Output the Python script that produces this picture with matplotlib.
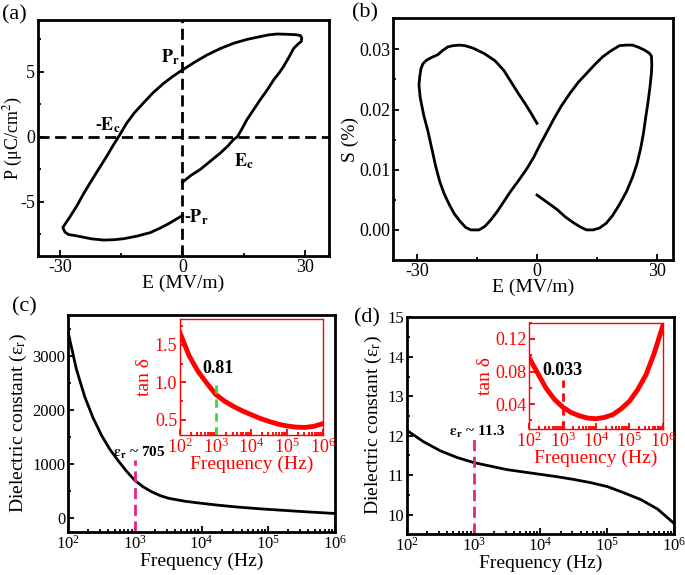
import matplotlib
matplotlib.use('Agg')
import matplotlib.pyplot as plt
import numpy as np
from matplotlib.ticker import MultipleLocator, FormatStrFormatter, LogLocator, NullFormatter

plt.rcParams['font.family'] = ['Liberation Serif', 'DejaVu Serif']
plt.rcParams['mathtext.fontset'] = 'stix'
plt.rcParams['axes.unicode_minus'] = False

# (a) P-E loop
pe_E = [0, 2, 4.3, 6.8, 9.3, 11.2, 12.5, 13.5, 14.6, 15.8, 17.4, 19.1, 20.8, 22.4, 23.7,
        24.8, 26.1, 27.3, 28.4, 29.2, 29.3, 29.0, 27.8, 25.5, 23.2, 21.1, 19.1, 15.8,
        12.5, 9.3, 6.0, 3.0, 0, -2.4, -4.7, -7.2, -9.6, -11.8, -13.7, -15.7, -17.2,
        -18.6, -20.7, -22.7, -24.4, -26.0, -27.7, -29.4, -28.9, -28.0, -26.5, -25.2,
        -22.3, -19.4, -17.0, -14.5, -11.2, -7.95, -5.5, -3.0, -1.5, 0]
pe_P = [-3.51, -3.0, -2.54, -1.9, -1.26, -0.7, -0.23, 0, 0.6, 1.3, 2.05, 2.85, 3.6, 4.38,
        4.9, 5.4, 6.1, 6.8, 7.15, 7.35, 7.6, 7.8, 7.87, 7.9, 7.92, 7.85, 7.72, 7.5,
        7.2, 6.8, 6.3, 5.75, 5.15, 4.65, 4.1, 3.4, 2.6, 1.85, 1.05, 0, -0.75,
        -1.5, -2.55, -3.56, -4.45, -5.36, -6.2, -7.0, -7.35, -7.55, -7.62, -7.7,
        -7.88, -7.97, -7.95, -7.87, -7.67, -7.4, -7.05, -6.64, -6.35, -6.08]

# (b) strain butterfly
se_E = [0, -1.5, -3.0, -4.6, -6.5, -8.3, -10.5, -13.2, -16.0, -18.0, -19.4, -21.0, -22.3,
        -23.6, -24.8, -26.2, -27.6, -28.5, -29.0, -29.3, -29.5,
        -29.2, -28.3, -27.3, -26.3, -25.3, -24.3, -23.2, -22.0, -20.7, -19.2, -17.8, -16.5,
        -14.5, -13.0, -11.5, -10.0, -8.3, -6.6, -4.5, -2.5, -0.8, 0.8, 2.5, 4.1, 6.0, 8.25,
        10.3, 12.4, 14.5, 16.5, 18.6, 20.6, 22.2, 23.9, 25.5, 26.8, 28.0, 28.6, 28.7, 28.6,
        28.2, 27.7, 27.2, 26.6, 25.9, 25.0, 23.9, 22.4, 20.6, 18.9, 17.3, 15.6, 14.0, 12.4,
        10.8, 9.1, 7.0, 5.0, 2.5, 0]
se_S = [0.0177, 0.0194, 0.0210, 0.0226, 0.0246, 0.0265, 0.0281, 0.0293, 0.0302, 0.0306,
        0.0307, 0.0306, 0.0304, 0.0298, 0.0291, 0.0287, 0.0282, 0.0276, 0.0268, 0.0255,
        0.0241,
        0.0220, 0.0190, 0.0165, 0.0135, 0.0105, 0.0080, 0.0060, 0.0043, 0.0027, 0.0014,
        0.0004, 0.0, 0.0, 0.0006, 0.0017, 0.0030, 0.0047, 0.0064, 0.0083, 0.0102, 0.0121,
        0.0142, 0.0163, 0.0183, 0.0205, 0.0227, 0.0245, 0.0260, 0.0275, 0.0288, 0.0298,
        0.0306, 0.0307, 0.0307, 0.0303, 0.0299, 0.0294, 0.0289, 0.0275, 0.0260, 0.0235,
        0.0210, 0.0188, 0.0160, 0.0135, 0.0110, 0.0088, 0.0064, 0.0042, 0.0024, 0.0011,
        0.0003, 0.0, 0.0, 0.0005, 0.0012, 0.0022, 0.0034, 0.0046, 0.0058]

# (c) dielectric constant and loss
logf_c = [2.0, 2.125, 2.25, 2.375, 2.5, 2.625, 2.75, 2.875, 3.0, 3.125, 3.25, 3.375, 3.5,
          3.75, 4.0, 4.25, 4.5, 4.75, 5.0, 5.25, 5.5, 5.75, 6.0]
eps_c = [3450, 2760, 2250, 1860, 1540, 1280, 1070, 875, 705, 585, 495, 425, 375,
         318, 280, 245, 215, 190, 168, 148, 128, 110, 92]
logf_q = [2.0, 2.25, 2.5, 2.75, 3.0, 3.25, 3.5, 3.75, 4.0, 4.25, 4.5, 4.75, 5.0, 5.25, 5.5, 5.75, 6.0]
tan_c = [1.66, 1.36, 1.15, 0.99, 0.84, 0.75, 0.68, 0.62, 0.57, 0.52, 0.48, 0.445, 0.42,
         0.405, 0.40, 0.415, 0.45]

# (d)
eps_d = [12.14, 11.85, 11.62, 11.45, 11.32, 11.23, 11.14, 11.08, 11.02, 10.96, 10.89,
         10.81, 10.71, 10.55, 10.38, 10.14, 9.77]
tan_d = [0.0966, 0.078, 0.0597, 0.046, 0.0363, 0.0297, 0.0256, 0.0228, 0.022, 0.0236,
         0.0269, 0.034, 0.0433, 0.0576, 0.076, 0.1028, 0.1356]

magenta = '#e8208c'


def style(ax, lw=2.0, color='k', size=12):
    for s in ax.spines.values():
        s.set_linewidth(lw)
        s.set_color(color)
    ax.tick_params(which='both', direction='in', top=False, right=False,
                   colors=color, labelsize=size, width=1.3, pad=2)
    ax.tick_params(which='major', length=4)
    ax.tick_params(which='minor', length=2.5)


fig = plt.figure(figsize=(6.85, 5.75), dpi=100)

# ---- (a)
ax = fig.add_axes([0.0555, 0.5548, 0.4248, 0.4104])
ax.plot(pe_E, pe_P, color='k', lw=2)
ax.axhline(0, color='k', lw=2, dashes=(4, 2))
ax.axvline(0, color='k', lw=2, dashes=(4, 2))
ax.set_xlim(-35.5, 36)
ax.set_ylim(-9.2, 9)
ax.xaxis.set_major_locator(MultipleLocator(30))
ax.xaxis.set_minor_locator(MultipleLocator(15))
ax.yaxis.set_major_locator(MultipleLocator(5))
ax.yaxis.set_minor_locator(MultipleLocator(2.5))
style(ax, size=13)
ax.set_xlabel('E (MV/m)', fontsize=14, labelpad=-1)
ax.set_ylabel(r'P (μC/cm$^2$)', fontsize=13, labelpad=-3)
ax.text(-0.6, 6.1, r'$\mathbf{P_r}$', ha='right', va='center', fontsize=13)
ax.text(-18.3, 0.9, r'-$\mathbf{E_c}$', ha='center', va='center', fontsize=13, fontweight='bold')
ax.text(15.2, -1.9, r'$\mathbf{E_c}$', ha='center', va='center', fontsize=13)
ax.text(0.4, -6.2, r'-$\mathbf{P_r}$', ha='left', va='center', fontsize=13, fontweight='bold')

# ---- (b)
ax = fig.add_axes([0.5737, 0.5478, 0.4088, 0.4209])
ax.plot(se_E, se_S, color='k', lw=2)
ax.set_xlim(-36, 34)
ax.set_ylim(-0.005, 0.0352)
ax.xaxis.set_major_locator(MultipleLocator(30))
ax.xaxis.set_minor_locator(MultipleLocator(15))
ax.yaxis.set_major_locator(MultipleLocator(0.01))
ax.yaxis.set_minor_locator(MultipleLocator(0.005))
ax.yaxis.set_major_formatter(FormatStrFormatter('%.2f'))
style(ax, size=13)
ax.set_xlabel('E (MV/m)', fontsize=14, labelpad=-1)
ax.set_ylabel('S (%)', fontsize=14, labelpad=0)


def log_axis(ax):
    ax.set_xscale('log')
    ax.set_xlim(1e2, 1e6)
    ax.xaxis.set_major_locator(LogLocator(base=10, numticks=10))
    ax.xaxis.set_minor_locator(LogLocator(base=10, subs=np.arange(2, 10), numticks=20))
    ax.xaxis.set_minor_formatter(NullFormatter())


# ---- (c)
ax = fig.add_axes([0.0993, 0.0748, 0.3898, 0.3774])
ax.plot(10 ** np.array(logf_c), eps_c, color='k', lw=2)
log_axis(ax)
ax.set_ylim(-250, 3760)
ax.yaxis.set_major_locator(MultipleLocator(1000))
ax.yaxis.set_minor_locator(MultipleLocator(500))
style(ax)
ax.plot([1e3, 1e3], [-250, 1080], color=magenta, lw=2, dashes=(4, 2))
ax.text(10 ** 3.06, 1210, r'$\mathbf{\varepsilon_r}$ ~ 705', ha='center', va='center',
        fontsize=11, fontweight='bold')
ax.set_xlabel('Frequency (Hz)', fontsize=14, labelpad=0)
ax.set_ylabel(r'Dielectric constant (ε$_\mathrm{r}$)', fontsize=14, labelpad=2)

ins = fig.add_axes([0.2628, 0.2435, 0.2083, 0.2012])
ins.plot(10 ** np.array(logf_q), tan_c, color='red', lw=3.5)
log_axis(ins)
ins.set_ylim(0.3, 1.84)
ins.yaxis.set_major_locator(MultipleLocator(0.5))
ins.yaxis.set_minor_locator(MultipleLocator(0.25))
ins.yaxis.set_major_formatter(FormatStrFormatter('%.1f'))
style(ins, lw=1.0, color='red', size=13)
ins.plot([1e3, 1e3], [0.3, 1.03], color='#33dd33', lw=2, dashes=(3, 2))
ins.text(10 ** 3.06, 1.19, '0.81', ha='center', va='center', fontsize=13, fontweight='bold')
ins.set_xlabel('Frequency (Hz)', fontsize=14, color='red', labelpad=-1)
ins.set_ylabel('tan δ', fontsize=14, color='red', labelpad=1)

# ---- (d)
ax = fig.add_axes([0.5937, 0.0708, 0.3907, 0.3784])
ax.plot(10 ** np.array(logf_q), eps_d, color='k', lw=2)
log_axis(ax)
ax.set_ylim(9.5, 15.02)
ax.yaxis.set_major_locator(MultipleLocator(1))
ax.yaxis.set_minor_locator(MultipleLocator(0.5))
style(ax)
ax.plot([1e3, 1e3], [9.5, 11.92], color=magenta, lw=2, dashes=(4, 2))
ax.text(10 ** 3.05, 12.1, r'$\mathbf{\varepsilon_r}$ ~ 11.3', ha='center', va='center',
        fontsize=11, fontweight='bold')
ax.set_xlabel('Frequency (Hz)', fontsize=14, labelpad=0)
ax.set_ylabel(r'Dielectric constant (ε$_\mathrm{r}$)', fontsize=14, labelpad=2)

ins = fig.add_axes([0.7727, 0.2534, 0.1947, 0.1854])
ins.plot(10 ** np.array(logf_q), tan_d, color='red', lw=3.5)
log_axis(ins)
ins.set_ylim(0.009, 0.140)
ins.yaxis.set_major_locator(MultipleLocator(0.04))
ins.yaxis.set_minor_locator(MultipleLocator(0.02))
ins.yaxis.set_major_formatter(FormatStrFormatter('%.2f'))
style(ins, lw=1.0, color='red', size=13)
ins.plot([1e3, 1e3], [0.009, 0.069], color='red', lw=2, dashes=(3, 2))
ins.text(10 ** 2.99, 0.081, '0.033', ha='center', va='center', fontsize=13, fontweight='bold')
ins.set_xlabel('Frequency (Hz)', fontsize=14, color='red', labelpad=-1)
ins.set_ylabel('tan δ', fontsize=14, color='red', labelpad=1)

# panel letters
fig.text(0.003, 1 - 15 / 575, '(a)', fontsize=16, va='center')
fig.text(352 / 685, 1 - 13 / 575, '(b)', fontsize=16, va='center')
fig.text(12 / 685, 1 - 307 / 575, '(c)', fontsize=16, va='center')
fig.text(354 / 685, 1 - 318 / 575, '(d)', fontsize=16, va='center')

fig.savefig('out.png', dpi=100)
